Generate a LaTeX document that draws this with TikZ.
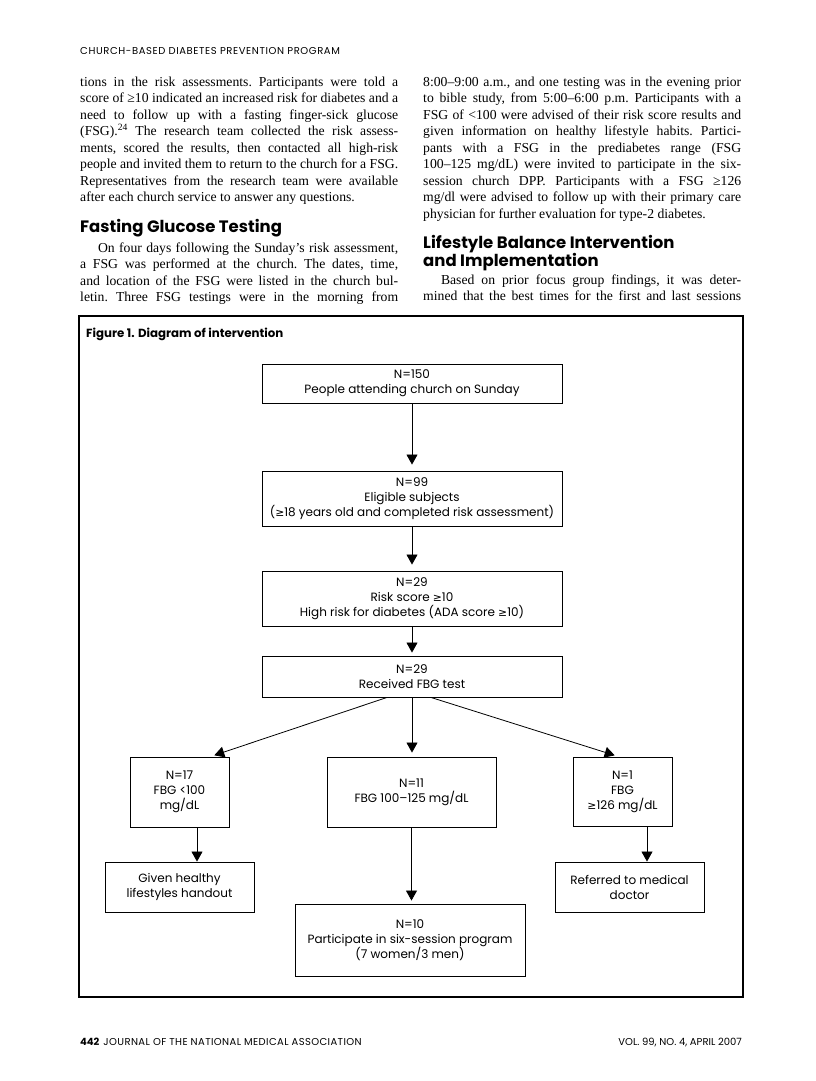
\documentclass[tikz,border=0pt]{standalone}
\usepackage{fontspec}
\setmainfont{Liberation Serif}
\newfontfamily\gothic{Poppins}
\newfontfamily\signfont[Scale=0.9]{DejaVu Sans}
\usetikzlibrary{arrows.meta}
\newcommand{\gesign}{{\signfont ≥}}
\newcommand{\bodytext}{\fontsize{13.7}{16.5}\selectfont\frenchspacing
  \hyphenpenalty=10000 \exhyphenpenalty=10000
  \spaceskip=0.25em plus 0.4em minus 0.08em\relax}
\newcommand{\runhead}{\gothic\fontsize{10}{12}\selectfont\addfontfeature{LetterSpace=6}}
\newcommand{\headtext}{\gothic\bfseries\fontsize{16.5}{18}\selectfont}
\newcommand{\boxtext}{\gothic\fontsize{12}{15}\selectfont}
\newcommand{\captiontext}{\gothic\bfseries\fontsize{11.8}{14}\selectfont}
\newcommand{\foottext}{\gothic\fontsize{10}{12}\selectfont}
\newcommand{\justend}{\parfillskip=0pt\par}

\begin{document}
\begin{tikzpicture}[
  x=1pt, y=-1pt,
  every node/.style={inner sep=0pt},
  body/.style={anchor=base west, text width=318pt, align=justify, font=\bodytext},
  heading/.style={anchor=base west, align=left, font=\headtext},
  flowbox/.style={draw, line width=0.9pt, align=center, font=\boxtext},
  arr/.style={line width=0.8pt, -{Triangle[length=10pt,width=11pt]}}
]

  % --- Page ---
  \useasboundingbox (0,0) rectangle (816,1081);
  \fill[white] (0,0) rectangle (816,1081);

  % --- Running head ---
  \node[anchor=base west, font=\runhead] (runhead) at (80,55)
    {CHURCH-BASED DIABETES PREVENTION PROGRAM};

  % --- Left column ---
  \node[body] (leftpara) at (80,86) {%
    tions in the risk assessments. Participants were told a\linebreak
    score of ≥10 indicated an increased risk for diabetes and a\linebreak
    need to follow up with a fasting finger-sick glucose\linebreak
    (FSG).\textsuperscript{24} The research team collected the risk assess-\linebreak
    ments, scored the results, then contacted all high-risk\linebreak
    people and invited them to return to the church for a FSG.\linebreak
    Representatives from the research team were available\linebreak
    after each church service to answer any questions.};
  \node[heading] (fasthead) at (80,232) {Fasting Glucose Testing};
  \node[body] (fastpara) at (80,252) {%
    \hspace*{1.3em}On four days following the Sunday's risk assessment,\linebreak
    a FSG was performed at the church. The dates, time,\linebreak
    and location of the FSG were listed in the church bul-\linebreak
    letin. Three FSG testings were in the morning from\justend};

  % --- Right column ---
  \node[body] (rightpara) at (423,86) {%
    8:00–9:00 a.m., and one testing was in the evening prior\linebreak
    to bible study, from 5:00–6:00 p.m. Participants with a\linebreak
    FSG of <100 were advised of their risk score results and\linebreak
    given information on healthy lifestyle habits. Partici-\linebreak
    pants with a FSG in the prediabetes range (FSG\linebreak
    100–125 mg/dL) were invited to participate in the six-\linebreak
    session church DPP. Participants with a FSG ≥126\linebreak
    mg/dl were advised to follow up with their primary care\linebreak
    physician for further evaluation for type-2 diabetes.};
  \node[heading] (lifehead) at (423,266)
    {Lifestyle Balance Intervention\\and Implementation};
  \node[body] (lifepara) at (423,284) {%
    \hspace*{1.3em}Based on prior focus group findings, it was deter-\linebreak
    mined that the best times for the first and last sessions\justend};

  % --- Figure frame ---
  \draw[line width=1.6pt] (79,316) rectangle (743,997);
  \node[anchor=base west, font=\captiontext] (figtitle) at (86,337)
    {Figure 1. Diagram of intervention};

  % --- Flow boxes ---
  \node[flowbox, minimum width=300pt, minimum height=39pt] (sunday) at (412,383.5)
    {N=150\\People attending church on Sunday};
  \node[flowbox, minimum width=300pt, minimum height=55pt] (eligible) at (412,498.5)
    {N=99\\Eligible subjects\\(\gesign18 years old and completed risk assessment)};
  \node[flowbox, minimum width=300pt, minimum height=55pt] (highrisk) at (412,598.5)
    {N=29\\Risk score \gesign10\\High risk for diabetes (ADA score \gesign10)};
  \node[flowbox, minimum width=300pt, minimum height=41pt] (tested) at (412,676.5)
    {N=29\\Received FBG test};

  \node[flowbox, minimum width=99pt, minimum height=70pt] (normal) at (179.5,792)
    {N=17\\FBG <100\\mg/dL};
  \node[flowbox, minimum width=169pt, minimum height=70pt] (prediab) at (411.5,792)
    {N=11\\FBG 100–125 mg/dL};
  \node[flowbox, minimum width=99pt, minimum height=69pt] (diabetic) at (622.5,791.5)
    {N=1\\FBG\\\gesign126 mg/dL};

  \node[flowbox, minimum width=149pt, minimum height=50pt] (handout) at (179.5,887)
    {Given healthy\\lifestyles handout};
  \node[flowbox, minimum width=230pt, minimum height=72pt] (program) at (410,940)
    {N=10\\Participate in six-session program\\(7 women/3 men)};
  \node[flowbox, minimum width=149pt, minimum height=50pt] (referral) at (629.5,887)
    {Referred to medical\\doctor};

  % --- Arrows ---
  \draw[arr, shorten >=6pt] (sunday) -- (eligible);
  \draw[arr, shorten >=6pt] (eligible) -- (highrisk);
  \draw[arr, shorten >=3pt] (highrisk) -- (tested);
  \draw[arr, shorten >=4pt] ([xshift=-25pt]tested.south) -- ([xshift=31pt]normal.north);
  \draw[arr, shorten >=4pt] (tested.south) -- (tested.south |- prediab.north);
  \draw[arr, shorten >=4pt] ([xshift=19pt]tested.south) -- ([xshift=-4pt]diabetic.north);
  \draw[arr] ([xshift=17.5pt]normal.south) -- ([xshift=17.5pt]handout.north);
  \draw[arr, shorten >=3pt] (prediab.south) -- (prediab.south |- program.north);
  \draw[arr] ([xshift=24.5pt]diabetic.south) -- ([xshift=24.5pt]diabetic.south |- referral.north);

  % --- Footer ---
  \node[anchor=base west, font=\foottext] (folio) at (80,1045)
    {\textbf{442}\hspace{4pt}\addfontfeature{LetterSpace=4}JOURNAL OF THE NATIONAL MEDICAL ASSOCIATION};
  \node[anchor=base east, font=\foottext] (issue) at (742,1045)
    {VOL. 99, NO. 4, APRIL 2007};

\end{tikzpicture}
\end{document}
